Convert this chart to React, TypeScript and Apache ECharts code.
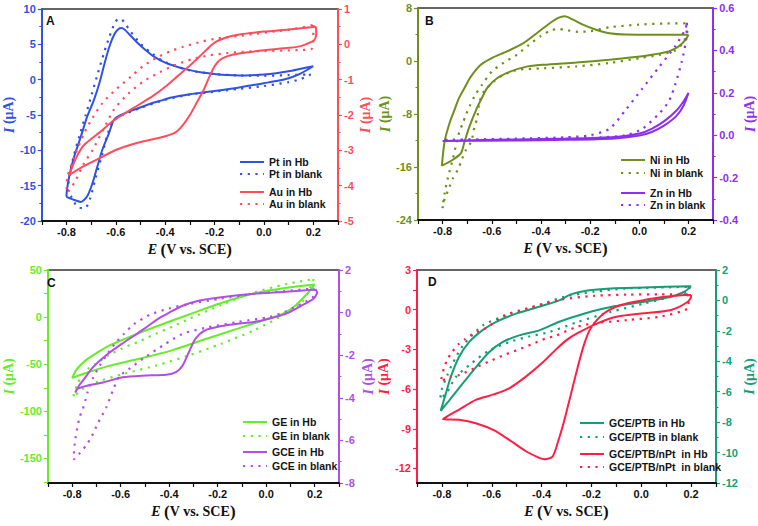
import React, { useEffect, useRef } from "react";
import * as echarts from "echarts";

type P = [number, number][];

// ---------- Panel A (left axis: Pt, right axis: Au) ----------
const ptHb: P = [
  [0.2, 1.9], [0.15, 0.9], [0.1, 0.2], [0.05, -0.2], [0.0, -0.5], [-0.1, -1.1], [-0.2, -1.6], [-0.3, -2.05],
  [-0.38, -2.55], [-0.41, -2.9], [-0.46, -3.4], [-0.53, -4.3], [-0.58, -5.0], [-0.608, -5.7], [-0.628, -7.6],
  [-0.655, -9.95], [-0.675, -12.3], [-0.695, -14.7], [-0.716, -16.5], [-0.742, -17.3], [-0.762, -17.1],
  [-0.785, -16.8], [-0.8, -16.5],
  [-0.789, -13.7], [-0.769, -10.9], [-0.742, -8.1], [-0.716, -5.2], [-0.689, -2.9], [-0.665, -0.3],
  [-0.645, 2.4], [-0.625, 4.8], [-0.605, 6.5], [-0.59, 7.15], [-0.578, 7.3], [-0.565, 7.1], [-0.545, 6.4],
  [-0.515, 5.3], [-0.48, 4.2], [-0.447, 3.3], [-0.4, 2.4], [-0.35, 1.8], [-0.3, 1.35], [-0.25, 1.0],
  [-0.2, 0.8], [-0.15, 0.65], [-0.1, 0.58], [-0.05, 0.62], [0.0, 0.72], [0.05, 0.92], [0.1, 1.2],
  [0.15, 1.55], [0.2, 1.9],
];
const ptBlank: P = [
  [0.19, 0.75], [0.15, 0.1], [0.1, -0.35], [0.0, -0.9], [-0.1, -1.3], [-0.2, -1.7], [-0.3, -2.1],
  [-0.4, -2.85], [-0.5, -4.0], [-0.58, -5.1], [-0.612, -5.9], [-0.635, -7.9], [-0.655, -10.5],
  [-0.682, -13.9], [-0.705, -16.9], [-0.726, -18.2], [-0.756, -18.0], [-0.78, -16.6], [-0.795, -15.8],
  [-0.787, -13.5], [-0.772, -11.0], [-0.748, -8.0], [-0.722, -5.0], [-0.697, -2.0], [-0.672, 1.0],
  [-0.648, 3.8], [-0.627, 6.0], [-0.607, 7.8], [-0.59, 8.6], [-0.575, 8.5], [-0.56, 7.8], [-0.54, 6.8],
  [-0.5, 5.1], [-0.45, 3.6], [-0.4, 2.5], [-0.3, 1.3], [-0.2, 0.8], [-0.1, 0.6], [0.0, 0.55], [0.1, 0.65],
  [0.19, 0.75],
];
const auHb: P = [
  [0.21, 0.5], [0.212, 0.3], [0.205, 0.13], [0.19, 0.06], [0.15, -0.05], [0.1, -0.1], [0.0, -0.17],
  [-0.1, -0.26], [-0.15, -0.34], [-0.18, -0.45], [-0.2, -0.62], [-0.22, -0.9], [-0.245, -1.3],
  [-0.27, -1.62], [-0.3, -2.0], [-0.33, -2.3], [-0.36, -2.5], [-0.4, -2.6], [-0.46, -2.7], [-0.53, -2.82],
  [-0.6, -2.99], [-0.66, -3.2], [-0.73, -3.45], [-0.789, -3.7],
  [-0.76, -3.2], [-0.729, -2.85], [-0.662, -2.47], [-0.608, -2.15], [-0.528, -1.8], [-0.448, -1.45],
  [-0.4, -1.2], [-0.35, -0.9], [-0.3, -0.6], [-0.25, -0.27], [-0.2, 0.05], [-0.15, 0.2], [-0.1, 0.28],
  [0.0, 0.36], [0.1, 0.42], [0.2, 0.49], [0.21, 0.5],
];
const auBlank: P = [
  [0.2, 0.55], [0.2, 0.2], [0.195, -0.12], [0.15, -0.16], [0.1, -0.17], [0.0, -0.19], [-0.086, -0.21],
  [-0.15, -0.25], [-0.22, -0.31], [-0.29, -0.42], [-0.354, -0.57], [-0.42, -0.78], [-0.488, -1.05],
  [-0.55, -1.4], [-0.608, -1.85], [-0.65, -2.4], [-0.695, -3.0], [-0.732, -3.4], [-0.762, -3.84],
  [-0.79, -4.15], [-0.8, -4.2],
  [-0.796, -3.75], [-0.769, -3.2], [-0.729, -2.52], [-0.695, -2.09], [-0.655, -1.67], [-0.6, -1.28],
  [-0.54, -0.92], [-0.49, -0.62], [-0.435, -0.38], [-0.38, -0.2], [-0.327, -0.07], [-0.25, 0.08],
  [-0.194, 0.16], [-0.1, 0.24], [-0.033, 0.3], [0.05, 0.37], [0.12, 0.43], [0.2, 0.55],
];

// ---------- Panel B (left: Ni, right: Zn) ----------
const niHb: P = [
  [0.2, 3.97], [0.187, 3.2], [0.16, 2.2], [0.12, 1.45], [0.052, 0.94], [-0.015, 0.59], [-0.122, 0.19],
  [-0.256, -0.22], [-0.39, -0.57], [-0.458, -0.85], [-0.525, -1.6], [-0.579, -2.6], [-0.619, -4.1],
  [-0.644, -5.86], [-0.664, -7.4], [-0.691, -9.9], [-0.711, -12.2], [-0.725, -13.9], [-0.758, -14.9],
  [-0.803, -15.8],
  [-0.792, -12.2], [-0.772, -9.4], [-0.752, -7.4], [-0.732, -5.5], [-0.71, -4.0], [-0.686, -2.4],
  [-0.646, -0.6], [-0.6, 0.44], [-0.538, 1.45], [-0.471, 2.7], [-0.417, 4.2], [-0.364, 5.7], [-0.33, 6.5],
  [-0.303, 6.74], [-0.27, 6.24], [-0.23, 5.48], [-0.176, 4.72], [-0.122, 4.2], [-0.055, 4.0],
  [0.079, 3.97], [0.2, 3.97],
];
const niBlank: P = [
  [0.193, 5.7], [0.195, 4.5], [0.185, 3.3], [0.173, 2.5], [0.146, 1.6], [0.079, 0.9], [0.012, 0.5],
  [-0.122, -0.3], [-0.256, -0.82], [-0.39, -1.1], [-0.497, -1.35], [-0.552, -2.1], [-0.592, -3.1],
  [-0.632, -4.6], [-0.651, -6.36], [-0.658, -8.4], [-0.671, -10.1], [-0.684, -12.2], [-0.705, -13.4],
  [-0.725, -15.2], [-0.738, -16.4], [-0.758, -17.7], [-0.772, -19.0], [-0.785, -20.2], [-0.795, -21.2],
  [-0.8, -22.2],
  [-0.792, -20.0], [-0.779, -17.7], [-0.758, -14.7], [-0.745, -12.6], [-0.732, -10.7], [-0.718, -9.4],
  [-0.705, -8.1], [-0.691, -6.9], [-0.67, -5.3], [-0.64, -3.6], [-0.6, -1.6], [-0.55, -0.2], [-0.5, 0.9],
  [-0.45, 2.4], [-0.4, 3.8], [-0.36, 4.6], [-0.33, 4.85], [-0.3, 4.7], [-0.25, 4.4], [-0.2, 4.5],
  [-0.12, 5.1], [0.0, 5.5], [0.1, 5.65], [0.193, 5.7],
];
const znHb: P = [
  [0.2, 0.2], [0.18, 0.14], [0.15, 0.09], [0.1, 0.045], [0.05, 0.015], [0.0, -0.002], [-0.1, -0.015],
  [-0.3, -0.022], [-0.5, -0.025], [-0.8, -0.027],
  [-0.5, -0.02], [-0.3, -0.016], [-0.1, -0.008], [0.0, 0.008], [0.05, 0.03], [0.1, 0.065], [0.15, 0.115],
  [0.18, 0.16], [0.2, 0.2],
];
const znBlank: P = [
  [0.193, 0.53], [0.19, 0.45], [0.173, 0.35], [0.146, 0.24], [0.12, 0.16], [0.079, 0.1], [0.012, 0.03],
  [-0.055, 0.0], [-0.15, -0.01], [-0.3, -0.018], [-0.5, -0.021], [-0.8, -0.022],
  [-0.5, -0.016], [-0.3, -0.01], [-0.2, 0.0], [-0.122, 0.03], [-0.055, 0.12], [0.012, 0.22],
  [0.079, 0.32], [0.146, 0.42], [0.187, 0.5], [0.193, 0.53],
];

// ---------- Panel C (left: GE, right: GCE) ----------
const geHb: P = [
  [0.2, 34.7], [0.176, 26.9], [0.122, 12.7], [0.069, 3.8], [-0.011, -3.3], [-0.118, -12.2],
  [-0.252, -23.5], [-0.386, -35], [-0.519, -44], [-0.653, -52], [-0.747, -59.5], [-0.8, -64.5],
  [-0.78, -55], [-0.75, -47], [-0.726, -42.4], [-0.68, -35], [-0.646, -30], [-0.58, -22.8], [-0.5, -14.5],
  [-0.412, -6], [-0.305, 4], [-0.198, 14], [-0.091, 22.5], [0.016, 28.5], [0.109, 32], [0.2, 34.7],
];
const geBlank: P = [
  [0.196, 40.4], [0.17, 25], [0.149, 16.3], [0.082, 3.8], [-0.051, -13.9], [-0.185, -28.2],
  [-0.319, -40.6], [-0.452, -51.2], [-0.586, -60.1], [-0.68, -67.2], [-0.747, -74.3], [-0.796, -85],
  [-0.78, -72], [-0.76, -62], [-0.73, -54], [-0.7, -49], [-0.653, -41], [-0.593, -33], [-0.526, -26],
  [-0.45, -17], [-0.386, -10], [-0.319, -2], [-0.185, 13], [-0.051, 26], [0.082, 35], [0.196, 40.4],
];
const gceHb: P = [
  [0.203, 1.09], [0.21, 0.95], [0.196, 0.66], [0.149, 0.35], [0.082, -0.05], [0.016, -0.28],
  [-0.051, -0.44], [-0.118, -0.52], [-0.185, -0.63], [-0.252, -0.83], [-0.292, -1.23], [-0.319, -1.86],
  [-0.345, -2.49], [-0.372, -2.8], [-0.412, -2.92], [-0.512, -2.96], [-0.593, -3.04], [-0.673, -3.28],
  [-0.74, -3.43], [-0.78, -3.59], [-0.787, -3.75],
  [-0.77, -3.4], [-0.753, -3.15], [-0.713, -2.55], [-0.66, -2.0], [-0.593, -1.45], [-0.54, -1.05],
  [-0.49, -0.65], [-0.44, -0.25], [-0.4, 0.0], [-0.345, 0.32], [-0.279, 0.56], [-0.185, 0.72],
  [-0.051, 0.88], [0.082, 0.98], [0.203, 1.09],
];
const gceBlank: P = [
  [0.196, 1.13], [0.196, 0.8], [0.149, 0.43], [0.08, 0.05], [0.016, -0.2], [-0.118, -0.44],
  [-0.252, -0.72], [-0.345, -1.0], [-0.42, -1.5], [-0.5, -2.1], [-0.56, -2.6], [-0.606, -3.0],
  [-0.63, -3.6], [-0.66, -4.46], [-0.693, -5.17], [-0.722, -5.87], [-0.742, -6.23], [-0.767, -6.58],
  [-0.793, -6.9],
  [-0.793, -6.7], [-0.787, -5.95], [-0.77, -4.93], [-0.756, -4.53], [-0.746, -4.14], [-0.737, -3.75],
  [-0.713, -3.04], [-0.686, -2.49], [-0.66, -2.02], [-0.62, -1.4], [-0.586, -0.99], [-0.546, -0.55],
  [-0.479, -0.1], [-0.399, 0.2], [-0.319, 0.4], [-0.185, 0.66], [-0.051, 0.88], [0.082, 1.02],
  [0.196, 1.13],
];

// ---------- Panel D (left: GCE/PTB/nPt, right: GCE/PTB) ----------
const nptHb: P = [
  [0.2, 1.11], [0.173, 1.11], [0.106, 0.99], [0.012, 0.73], [-0.082, 0.36], [-0.149, -0.27],
  [-0.203, -1.4], [-0.23, -2.66], [-0.256, -4.42], [-0.283, -6.44], [-0.31, -8.45], [-0.336, -10.1],
  [-0.356, -11.1], [-0.388, -11.3], [-0.409, -11.2], [-0.463, -10.7], [-0.53, -9.84], [-0.592, -9.1],
  [-0.664, -8.58], [-0.726, -8.33], [-0.796, -8.28],
  [-0.726, -7.5], [-0.664, -6.82], [-0.592, -6.4], [-0.53, -5.94], [-0.463, -5.06], [-0.396, -4.0],
  [-0.342, -3.0], [-0.3, -2.3], [-0.256, -1.78], [-0.176, -1.03], [-0.095, -0.52], [0.012, -0.27],
  [0.12, -0.02], [0.187, 0.6], [0.2, 1.0], [0.2, 1.11],
];
const nptBlank: P = [
  [0.187, 1.16], [0.19, 0.6], [0.187, 0.1], [0.079, -0.52], [-0.055, -0.78], [-0.189, -1.03],
  [-0.256, -1.28], [-0.348, -2.0], [-0.382, -2.16], [-0.436, -2.59], [-0.497, -3.04], [-0.55, -3.42],
  [-0.611, -3.92], [-0.671, -4.43], [-0.729, -4.93], [-0.765, -5.05], [-0.805, -5.44],
  [-0.792, -4.43], [-0.779, -3.8], [-0.761, -3.25], [-0.734, -2.62], [-0.707, -2.23], [-0.678, -1.86],
  [-0.618, -1.33], [-0.552, -0.45], [-0.458, 0.1], [-0.323, 0.75], [-0.189, 1.05], [-0.055, 1.14],
  [0.079, 1.16], [0.187, 1.16],
];
const ptbHb: P = [
  [0.2, 0.94], [0.173, 0.57], [0.12, 0.24], [0.012, -0.09], [-0.122, -0.43], [-0.23, -0.87],
  [-0.329, -1.4], [-0.409, -1.97], [-0.49, -2.3], [-0.557, -2.74], [-0.611, -3.4], [-0.664, -4.4],
  [-0.718, -5.49], [-0.772, -6.6], [-0.805, -7.26],
  [-0.785, -6.16], [-0.765, -5.05], [-0.732, -3.73], [-0.691, -2.74], [-0.638, -1.97], [-0.584, -1.42],
  [-0.503, -0.87], [-0.396, -0.35], [-0.329, 0.0], [-0.283, 0.4], [-0.216, 0.66], [-0.122, 0.79],
  [0.012, 0.85], [0.2, 0.94],
];
const ptbBlank: P = [
  [0.193, 0.9], [0.193, 0.68], [0.12, 0.24], [0.012, -0.2], [-0.122, -0.76], [-0.256, -1.42],
  [-0.369, -2.08], [-0.45, -2.37], [-0.53, -2.74], [-0.611, -3.29], [-0.684, -4.17], [-0.745, -5.05],
  [-0.78, -6.05], [-0.807, -6.49],
  [-0.8, -5.82], [-0.779, -4.94], [-0.758, -4.17], [-0.713, -2.9], [-0.632, -1.6], [-0.525, -0.9],
  [-0.39, -0.2], [-0.31, 0.24], [-0.189, 0.57], [-0.055, 0.79], [0.079, 0.85], [0.193, 0.9],
];

// ---------- Axis tick / label values ----------
const xLabelVals = [-0.8, -0.6, -0.4, -0.2, 0, 0.2];
const xTickVals = [-0.9, -0.8, -0.7, -0.6, -0.5, -0.4, -0.3, -0.2, -0.1, 0, 0.1, 0.2, 0.3];
const cLeftLabels = [-150, -100, -50, 0, 50];
const cLeftTicks = [-175, -150, -125, -100, -75, -50, -25, 0, 25, 50];
const dLeftLabels = [-12, -9, -6, -3, 0, 3];
const dLeftTicks = [-12, -10.5, -9, -7.5, -6, -4.5, -3, -1.5, 0, 1.5, 3];

const names = {
  A: ["Pt in Hb", "Pt in blank", "Au in Hb", "Au in blank"],
  B: ["Ni in Hb", "Ni in blank", "Zn in Hb", "Zn in blank"],
  C: ["GE in Hb", "GE in blank", "GCE in Hb", "GCE in blank"],
  D: ["GCE/PTB in Hb", "GCE/PTB in blank", "GCE/PTB/nPt  in Hb", "GCE/PTB/nPt  in blank"],
};

const SANS = "'Liberation Sans', Arial, Helvetica, sans-serif";
const SERIF = "'Liberation Serif', 'Times New Roman', serif";

const COL = {
  blue: "#2f52e4",
  red: "#ff4d5c",
  olive: "#6f8f1c",
  violet: "#8c2ff0",
  lime: "#66ec2a",
  orchid: "#b04fe8",
  crimson: "#ff1f45",
  teal: "#159e74",
};

const GRIDS = [
  { left: 38, top: 9, width: 300, height: 212 },
  { left: 418, top: 8, width: 299, height: 212 },
  { left: 39, top: 270, width: 300, height: 213 },
  { left: 417, top: 270, width: 299, height: 213 },
];

function fmt1(v: number) {
  if (Math.abs(v) < 1e-9) return "0.0";
  return v.toFixed(1);
}
function fmt0(v: number) {
  if (Math.abs(v) < 1e-9) return "0";
  return String(Math.round(v * 100) / 100);
}

function xAxis(gi: number) {
  return {
    type: "value",
    gridIndex: gi,
    min: -0.9,
    max: 0.3,
    axisLine: { show: true, onZero: false, lineStyle: { color: "#111", width: 2 } },
    axisTick: { show: true, length: 4, customValues: xTickVals, lineStyle: { color: "#111", width: 1.2 } },
    axisLabel: {
      customValues: xLabelVals,
      formatter: (v: number) => fmt1(v),
      fontFamily: SANS,
      fontWeight: "bold",
      fontSize: 11,
      color: "#111",
      margin: 5,
    },
    splitLine: { show: false },
    name: "{i|E} {p|(}{n|V vs. SCE}{p|)}",
    nameLocation: "middle",
    nameGap: 20,
    nameTextStyle: {
      rich: {
        i: { fontFamily: SERIF, fontStyle: "italic", fontWeight: "bold", fontSize: 14, color: "#111" },
        p: { fontFamily: SERIF, fontWeight: "bold", fontSize: 17, color: "#111" },
        n: { fontFamily: SERIF, fontWeight: "bold", fontSize: 14, color: "#111" },
      },
    },
  };
}

function yAxis(
  gi: number,
  pos: "left" | "right",
  color: string,
  min: number,
  max: number,
  nameGap: number,
  extra: any
) {
  const base: any = {
    type: "value",
    gridIndex: gi,
    position: pos,
    min,
    max,
    axisLine: { show: true, onZero: false, lineStyle: { color, width: 2 } },
    axisTick: { show: true, length: 4, lineStyle: { color, width: 1.2 } },
    minorTick: { show: true, splitNumber: 2, length: 2.5, lineStyle: { color, width: 1 } },
    axisLabel: {
      color,
      fontFamily: SANS,
      fontWeight: "bold",
      fontSize: 11,
      margin: 6,
      formatter: (v: number) => fmt0(v),
    },
    splitLine: { show: false },
    minorSplitLine: { show: false },
    name: "{i|I} {n|(μA)}",
    nameLocation: "middle",
    nameRotate: 90,
    nameGap,
    nameTextStyle: {
      rich: {
        i: { fontFamily: SERIF, fontStyle: "italic", fontWeight: "bold", fontSize: 15, color },
        n: { fontFamily: SERIF, fontWeight: "bold", fontSize: 14, color },
      },
    },
  };
  if (extra.interval !== undefined) base.interval = extra.interval;
  if (extra.labels) {
    base.axisLabel.customValues = extra.labels;
    base.axisTick.customValues = extra.ticks;
    base.minorTick.show = false;
  }
  if (extra.formatter) base.axisLabel.formatter = extra.formatter;
  return base;
}

function series(name: string, data: P, gi: number, yi: number, color: string, dotted: boolean) {
  return {
    type: "line",
    name,
    data,
    xAxisIndex: gi,
    yAxisIndex: yi,
    symbol: "none",
    smooth: 0.25,
    animation: false,
    lineStyle: dotted
      ? { color, width: 2.2, type: [2.2, 5.5] }
      : { color, width: 2, type: "solid" },
    itemStyle: { color },
  };
}

function legend(data: string[], left: number, top: number, gap: number) {
  return {
    orient: "vertical",
    left,
    top,
    data,
    padding: 0,
    itemGap: gap,
    itemWidth: 24,
    itemHeight: 10,
    selectedMode: false,
    itemStyle: { opacity: 0 },
    textStyle: {
      fontFamily: SANS,
      fontWeight: "bold",
      fontSize: 10.5,
      lineHeight: 12,
      color: "#151515",
    },
  };
}

function buildOption() {
  const ser = [
    series(names.A[0], ptHb, 0, 0, COL.blue, false),
    series(names.A[1], ptBlank, 0, 0, COL.blue, true),
    series(names.A[2], auHb, 0, 1, COL.red, false),
    series(names.A[3], auBlank, 0, 1, COL.red, true),
    series(names.B[0], niHb, 1, 2, COL.olive, false),
    series(names.B[1], niBlank, 1, 2, COL.olive, true),
    series(names.B[2], znHb, 1, 3, COL.violet, false),
    series(names.B[3], znBlank, 1, 3, COL.violet, true),
    series(names.C[0], geHb, 2, 4, COL.lime, false),
    series(names.C[1], geBlank, 2, 4, COL.lime, true),
    series(names.C[2], gceHb, 2, 5, COL.orchid, false),
    series(names.C[3], gceBlank, 2, 5, COL.orchid, true),
    series(names.D[0], ptbHb, 3, 7, COL.teal, false),
    series(names.D[1], ptbBlank, 3, 7, COL.teal, true),
    series(names.D[2], nptHb, 3, 6, COL.crimson, false),
    series(names.D[3], nptBlank, 3, 6, COL.crimson, true),
  ];
  const letters = [
    { t: "A", x: 46, y: 15 },
    { t: "B", x: 425, y: 15 },
    { t: "C", x: 47, y: 277 },
    { t: "D", x: 428, y: 276 },
  ];
  return {
    animation: false,
    backgroundColor: "#ffffff",
    grid: GRIDS.map((g) => ({ ...g, show: true, borderColor: "#333", borderWidth: 1.4, backgroundColor: "transparent" })),
    xAxis: [0, 1, 2, 3].map((i) => xAxis(i)),
    yAxis: [
      yAxis(0, "left", COL.blue, -20, 10, 20, { interval: 5 }),
      yAxis(0, "right", COL.red, -5, 1, 18, { interval: 1 }),
      yAxis(1, "left", COL.olive, -24, 8, 20, { interval: 8 }),
      yAxis(1, "right", COL.violet, -0.4, 0.6, 24, { interval: 0.2, formatter: (v: number) => fmt1(v) }),
      yAxis(2, "left", COL.lime, -176, 50, 22, { labels: cLeftLabels, ticks: cLeftTicks }),
      yAxis(2, "right", COL.orchid, -8, 2, 21, { interval: 2 }),
      yAxis(3, "left", COL.crimson, -13.1, 3, 20, { labels: dLeftLabels, ticks: dLeftTicks }),
      yAxis(3, "right", COL.teal, -12, 2, 23, { interval: 2 }),
    ],
    legend: [
      legend(names.A.slice(0, 2), 239, 156, 0),
      legend(names.A.slice(2, 4), 239, 186, 0),
      legend(names.B.slice(0, 2), 620, 154, 1),
      legend(names.B.slice(2, 4), 620, 187, 0),
      legend(names.C.slice(0, 2), 242, 416, 2),
      legend(names.C.slice(2, 4), 242, 446, 2),
      legend(names.D.slice(0, 2), 579, 417, 2),
      legend(names.D.slice(2, 4), 579, 448, 1),
    ],
    graphic: letters.map((l) => ({
      type: "text",
      left: l.x,
      top: l.y,
      style: { text: l.t, fontFamily: SANS, fontWeight: "bold", fontSize: 12, fill: "#111" },
      z: 10,
    })),
    series: ser,
  };
}

export default function App() {
  const ref = useRef<HTMLDivElement>(null);
  useEffect(() => {
    if (!ref.current) return;
    const chart = echarts.init(ref.current, undefined, { renderer: "svg" });
    chart.setOption(buildOption() as any);
    return () => {
      chart.dispose();
    };
  }, []);
  return (
    <div
      ref={ref}
      style={{ position: "fixed", left: 0, top: 0, width: 758, height: 526, background: "#fff" }}
    />
  );
}
